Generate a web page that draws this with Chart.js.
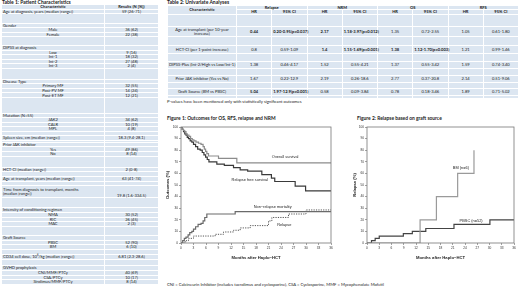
<!DOCTYPE html>
<html>
<head>
<meta charset="utf-8">
<script src="https://cdn.jsdelivr.net/npm/chart.js@4.4.0/dist/chart.umd.min.js"></script>
<style>
  body { margin:0; width:520px; height:297px; position:relative; background:#fff; font-family: Lato, 'Open Sans', sans-serif; color:#222; overflow:hidden; }
  .cap { position:absolute; font-weight:bold; font-size:5px; white-space:nowrap; line-height:1; }
  .fcap { position:absolute; font-weight:bold; font-size:4.9px; white-space:nowrap; line-height:1; }
  .note { position:absolute; font-size:4.2px; white-space:nowrap; line-height:1; }
  table { position:absolute; border-collapse:collapse; table-layout:fixed; }
  #t1 { font-size:4.1px; }
  #t2 { font-size:4.1px; }
  td { background:#dce6f1; border:0.6px solid #fff; padding:0 1px; line-height:3.4px; white-space:nowrap; overflow:visible; text-align:center; }
  td.g { text-align:left; }
  tr.h td { font-weight:bold; }
  b { font-weight:bold; }
  canvas { position:absolute; }
</style>
</head>
<body>

<div class="cap" style="left:2px; top:-0.5px;">Table 1: Patient Characteristics</div>
<table id="t1" style="left:1px; top:4px; width:157px;">
  <colgroup><col style="width:103px"><col style="width:54px"></colgroup>
  <tbody></tbody>
</table>

<div class="cap" style="left:167px; top:-0.5px;">Table 2: Univariate Analyses</div>
<table id="t2" style="left:167px; top:4.5px; width:351px;">
  <colgroup>
    <col style="width:69px">
    <col style="width:35.25px"><col style="width:35.25px">
    <col style="width:35.25px"><col style="width:35.25px">
    <col style="width:35.25px"><col style="width:35.25px">
    <col style="width:35.25px"><col style="width:35.25px">
  </colgroup>
  <tbody></tbody>
</table>
<div class="note" style="left:167px; top:99.5px;">P-values have been mentioned only with statistically significant outcomes</div>

<div class="fcap" style="left:167px; top:116px;">Figure 1: Outcomes for OS, RFS, relapse and NRM</div>
<canvas id="fig1" width="180" height="142" style="left:163px; top:122px;"></canvas>

<div class="fcap" style="left:357px; top:116px;">Figure 2: Relapse based on graft source</div>
<canvas id="fig2" width="168" height="142" style="left:350px; top:122px;"></canvas>

<div class="note" style="left:167px; top:283px;">CNI = Calcineurin Inhibitor (includes tacrolimus and cyclosporine), CSA = Cyclosporine, MMF = Mycophenolate Mofetil</div>

<script>
// Table 1 rows: [label, value, kind]  (a number = spacer row of that height)
const patientRows = [
  ['Characteristic', 'Results (N [%])', 'h'],
  ['Age at diagnosis, years (median [range])', '59 (26-71)', 'g'],
  9.5,
  ['Gender', '', 'g'],
  ['Male', '36 (62)', 's'],
  ['Female', '22 (38)', 's'],
  8.5,
  ['DIPSS at diagnosis', '', 'g'],
  ['Low', '9 (16)', 's'],
  ['Int-1', '18 (32)', 's'],
  ['Int-2', '27 (48)', 's'],
  ['Int-3', '2 (4)', 's'],
  10.7,
  ['Disease Type', '', 'g'],
  ['Primary MF', '32 (55)', 's'],
  ['Post-PV MF', '14 (24)', 's'],
  ['Post-ET MF', '12 (21)', 's'],
  15.6,
  ['Mutation (N=55)', '', 'g'],
  ['JAK2', '34 (62)', 's'],
  ['CALR', '10 (19)', 's'],
  ['MPL', '4 (8)', 's'],
  4.3,
  ['Spleen size, cm (median [range])', '18.3 (9.4-28.1)', 'g'],
  2,
  ['Prior JAK inhibitor', '', 'g'],
  ['Yes', '49 (86)', 's'],
  ['No', '8 (14)', 's'],
  11,
  ['HCT-CI (median [range])', '2 (0-8)', 'g'],
  5,
  ['Age at transplant, years (median [range])', '63 (41-74)', 'g'],
  4.5,
  ['Time from diagnosis to transplant, months<br>(median [range])', '19.8 (1.6-334.5)', 'g2'],
  10,
  ['Intensity of conditioning regimen', '', 'g'],
  ['NMA', '30 (52)', 's'],
  ['RIC', '26 (45)', 's'],
  ['MAC', '2 (3)', 's'],
  9.5,
  ['Graft Source', '', 'g'],
  ['PBSC', '52 (90)', 's'],
  ['BM', '6 (10)', 's'],
  5.2,
  ['CD34 cell dose, 10<sup style="font-size:2.8px;line-height:0">6</sup>/kg (median [range])', '6.81 (2.3-28.6)', 'g'],
  6.4,
  ['GVHD prophylaxis', '', 'g'],
  ['CNI/MMF/PTCy', '40 (69)', 's'],
  ['CSA/PTCy', '10 (17)', 's'],
  ['Sirolimus/MMF/PTCy', '8 (14)', 's']
];

// Table 2: univariate analyses (HR, 95% CI) for relapse, NRM, OS, RFS
const uniLabels = [
  'Age at transplant (per 10-year<br>increase)',
  'HCT-CI (per 1-point increase)',
  'DIPSS-Plus (Int-2/High vs Low/Int-1)',
  'Prior JAK inhibitor (Yes vs No)',
  'Graft Source (BM vs PBSC)'
];
const relapseHR = ['<b>0.44</b>', '0.8', '1.38', '1.67', '<b>5.04</b>'];
const relapseCI = ['<b>0.20-0.95(p=0.037)</b>', '0.59-1.09', '0.46-4.17', '0.22-12.9', '<b>1.97-12.9(p=0.001)</b>'];
const nrmHR = ['<b>2.17</b>', '<b>1.4</b>', '1.52', '2.19', '0.58'];
const nrmCI = ['<b>1.18-3.97(p=0.012)</b>', '<b>1.15-1.69(p=0.001)</b>', '0.55-4.21', '0.26-18.6', '0.09-3.84'];
const osHR = ['1.35', '<b>1.38</b>', '1.37', '2.77', '0.78'];
const osCI = ['0.72-2.55', '<b>1.12-1.70(p=0.003)</b>', '0.55-3.42', '0.37-20.8', '0.18-3.46'];
const rfsHR = ['1.05', '1.21', '1.59', '2.14', '1.89'];
const rfsCI = ['0.61-1.80', '0.99-1.46', '0.74-3.40', '0.51-9.06', '0.71-5.02'];

// Figure 1: cumulative outcomes (%) by months after transplant
const osMonths = [0, 0.3, 0.6, 0.9, 1.2, 1.5, 1.9, 2.3, 2.7, 3.1, 3.6, 4.2, 4.8, 5.3, 5.6, 5.9, 6.2, 6.6, 9.0, 13.4, 36];
const osPct = [100, 98, 97, 96, 94, 93, 92, 90, 89, 88, 87, 86, 85, 83, 81, 79, 77, 75, 73, 69, 69];
const rfsMonths = [0, 0.3, 0.6, 0.9, 1.2, 1.5, 1.8, 2.2, 2.6, 3.0, 3.5, 4.0, 4.6, 5.1, 5.5, 5.9, 6.3, 6.7, 8.6, 10.4, 12.6, 14.2, 16.0, 19.4, 21.7, 22.5, 27.4, 29.9, 36];
const rfsPct = [100, 98, 96, 94, 93, 91, 90, 88, 87, 85, 83, 81, 80, 78, 76, 74, 72, 70, 68, 67, 65, 63, 62, 59, 56, 53, 49, 45, 45];
const nrmMonths = [0, 0.4, 0.8, 1.2, 1.7, 2.1, 2.6, 3.0, 3.5, 4.1, 4.8, 5.3, 5.7, 6.2, 13.0, 36];
const nrmPct = [0, 2, 4, 5, 7, 9, 10, 12, 14, 16, 17, 19, 22, 25, 27, 27];
const relMonths = [0, 1.0, 1.8, 3.0, 8.2, 10.2, 12.6, 14.2, 16.6, 21.0, 21.8, 25.8, 30.0, 36];
const relPct = [0, 2, 4, 6, 7.5, 9.5, 11, 13, 15, 19, 22, 25, 28.5, 28.5];

// Figure 2: relapse (%) by graft source
const bmMonths = [0, 13.0, 17.0, 22.2, 26.2];
const bmPct = [0, 20, 40, 60, 80];
const pbscMonths = [0, 1.1, 2.0, 3.0, 8.9, 11.1, 14.4, 21.3, 30.1, 36];
const pbscPct = [0, 2, 4, 6, 8, 10, 12.5, 16, 20, 20];

const monthTicks = [0, 3, 6, 9, 12, 15, 18, 21, 24, 27, 30, 33, 36];
const pctTicks = [0, 10, 20, 30, 40, 50, 60, 70, 80, 90, 100];

// ---- tables
function buildPatientTable() {
  const body = document.querySelector('#t1 tbody');
  patientRows.forEach(r => {
    const tr = document.createElement('tr');
    if (typeof r === 'number') {
      tr.style.height = r + 'px';
      tr.innerHTML = '<td></td><td></td>';
    } else {
      const [label, val, kind] = r;
      tr.style.height = kind === 'g2' ? '12px' : '4.6px';
      if (kind === 'h') tr.className = 'h';
      const cls = (kind === 'g' || kind === 'g2') ? 'g' : '';
      const va = kind === 'g2' ? 'vertical-align:bottom;' : '';
      tr.innerHTML = `<td class="${cls}">${label}</td><td style="${va}">${val}</td>`;
    }
    body.appendChild(tr);
  });
}

function buildUniTable() {
  const body = document.querySelector('#t2 tbody');
  // spacer heights between rows (after header, after each row)
  const gaps = [12, 9, 8, 6.5, 5.5, 3];
  let html = '';
  html += '<tr class="h" style="height:4.8px"><td rowspan="2">Characteristic</td>' +
    ['Relapse', 'NRM', 'OS', 'RFS'].map(t => `<td colspan="2">${t}</td>`).join('') + '</tr>';
  html += '<tr class="h" style="height:4.8px">' + '<td>HR</td><td>95% CI</td>'.repeat(4) + '</tr>';
  const blank = h => `<tr style="height:${h}px">` + '<td></td>'.repeat(9) + '</tr>';
  html += blank(gaps[0]);
  uniLabels.forEach((lab, i) => {
    html += `<tr style="height:${i === 0 ? 10 : 7.5}px"><td>${lab}</td>` +
      `<td>${relapseHR[i]}</td><td>${relapseCI[i]}</td>` +
      `<td>${nrmHR[i]}</td><td>${nrmCI[i]}</td>` +
      `<td>${osHR[i]}</td><td>${osCI[i]}</td>` +
      `<td>${rfsHR[i]}</td><td>${rfsCI[i]}</td></tr>`;
    html += blank(gaps[i + 1]);
  });
  body.innerHTML = html;
}

buildPatientTable();
buildUniTable();

// ---- charts
const pts = (xs, ys) => xs.map((x, i) => ({ x: x, y: ys[i] }));

const frame = {
  id: 'frame',
  afterDraw(chart) {
    const { ctx, chartArea: a } = chart;
    ctx.save();
    ctx.strokeStyle = '#777';
    ctx.lineWidth = 0.8;
    ctx.strokeRect(a.left, a.top, a.right - a.left, a.bottom - a.top);
    ctx.restore();
  }
};

const curveLabels = {
  id: 'curveLabels',
  afterDatasetsDraw(chart, args, opts) {
    const { ctx, scales: { x, y } } = chart;
    ctx.save();
    ctx.font = '3.9px "Liberation Sans", Arial, sans-serif';
    ctx.fillStyle = '#222';
    ctx.textAlign = 'center';
    ctx.textBaseline = 'middle';
    (opts.items || []).forEach(it => {
      ctx.fillText(it.text, x.getPixelForValue(it.x), y.getPixelForValue(it.y));
    });
    ctx.restore();
  }
};

function kmChart(id, datasets, yTitle, yWidth, padRight, labels) {
  const tickFont = { family: '"Liberation Sans", Arial, sans-serif', size: 3.2 };
  const titleFont = { family: '"Liberation Sans", Arial, sans-serif', size: 4.2, weight: 'bold' };
  return new Chart(document.getElementById(id), {
    type: 'line',
    data: { datasets: datasets },
    options: {
      responsive: false,
      animation: false,
      events: [],
      layout: { padding: { left: 0, right: padRight, top: 5, bottom: 0 } },
      plugins: {
        legend: { display: false },
        tooltip: { enabled: false },
        curveLabels: { items: labels }
      },
      elements: { point: { radius: 0 } },
      scales: {
        x: {
          type: 'linear', min: 0, max: 36,
          afterBuildTicks: s => { s.ticks = monthTicks.map(v => ({ value: v })); },
          afterFit: s => { s.height = 21; },
          ticks: { font: tickFont, color: '#333', padding: 1.5, maxRotation: 0, autoSkip: false },
          grid: { drawOnChartArea: false, drawTicks: true, tickLength: 2, color: '#666', lineWidth: 0.6 },
          border: { display: false },
          title: { display: true, text: 'Months after Haplo\u2212HCT', color: '#222', font: titleFont,
                   padding: { top: 2, bottom: 4 } }
        },
        y: {
          min: 0, max: 100,
          afterBuildTicks: s => { s.ticks = pctTicks.map(v => ({ value: v })); },
          afterFit: s => { s.width = yWidth; },
          ticks: { font: tickFont, color: '#333', padding: 1, autoSkip: false },
          grid: { drawOnChartArea: false, drawTicks: true, tickLength: 2, color: '#666', lineWidth: 0.6 },
          border: { display: false },
          title: { display: true, text: yTitle, color: '#222', font: titleFont,
                   padding: { top: 2, bottom: 1 } }
        }
      }
    },
    plugins: [frame, curveLabels]
  });
}

const line = (data, color, width, dash) => ({
  data: data, borderColor: color, borderWidth: width, borderDash: dash || [],
  stepped: true, fill: false, pointRadius: 0
});

kmChart('fig1', [
  line(pts(osMonths, osPct), '#8c8c8c', 1.2),
  line(pts(rfsMonths, rfsPct), '#3a3a3a', 1.2),
  line(pts(nrmMonths, nrmPct), '#6a6a6a', 1.2),
  line(pts(relMonths, relPct), '#444', 0.9, [1.2, 1.2])
], 'Outcomes (%)', 18, 12, [
  { text: 'Overall survival', x: 25, y: 74 },
  { text: 'Relapse free survival', x: 16.5, y: 54 },
  { text: 'Non\u2212relapse mortality', x: 22, y: 31.5 },
  { text: 'Relapse', x: 24.8, y: 16 }
]);

kmChart('fig2', [
  line(pts(bmMonths, bmPct), '#9a9a9a', 1.2),
  line(pts(pbscMonths, pbscPct), '#444', 1.2)
], 'Relapse (%)', 17, 4, [
  { text: 'BM (n=6)', x: 23, y: 65 },
  { text: 'PBSC (n=52)', x: 25.5, y: 19 }
]);
</script>
</body>
</html>
